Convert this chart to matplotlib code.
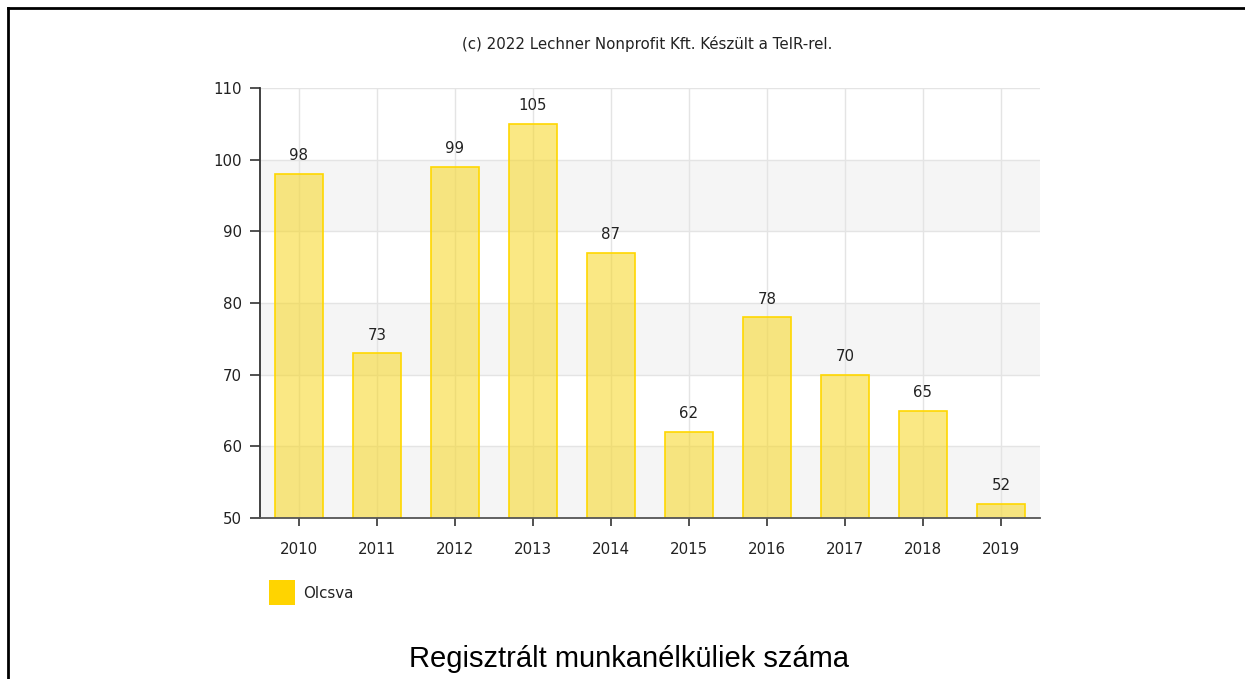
import matplotlib
matplotlib.use("Agg")
import matplotlib.pyplot as plt
from matplotlib.patches import Rectangle
from matplotlib.lines import Line2D

years = ["2010", "2011", "2012", "2013", "2014", "2015", "2016", "2017", "2018", "2019"]
values = [98, 73, 99, 105, 87, 62, 78, 70, 65, 52]
yticks = [50, 60, 70, 80, 90, 100, 110]
series_name = "Olcsva"
credit = "(c) 2022 Lechner Nonprofit Kft. Készült a TeIR-rel."
title = "Regisztrált munkanélküliek száma"

FS = 10.8
fig = plt.figure(figsize=(12.45, 6.79), dpi=100)
ax = fig.add_axes([260/1245, 161/679, 780/1245, 430/679])

x = list(range(len(years)))
ax.set_xlim(-0.5, len(years) - 0.5)
ax.set_ylim(50, 110)

# alternating bands
for lo in (50, 70, 90):
    ax.axhspan(lo, lo + 10, color="#f5f5f5", zorder=0, lw=0)
for t in yticks:
    ax.axhline(t, color="#e4e4e4", lw=1, zorder=1)
for xi in x:
    ax.axvline(xi, color="#e4e4e4", lw=1, zorder=1)

ax.bar(x, values, width=0.62, color=(0.97, 0.84, 0.12, 0.55),
       edgecolor="#FFD700", linewidth=1.2, zorder=2)

for xi, v in zip(x, values):
    ax.annotate(str(v), (xi, v), xytext=(0, 13), textcoords="offset points",
                ha="center", va="center", fontsize=FS, color="#222222",
                family="DejaVu Sans")

ax.set_xticks(x)
ax.set_xticklabels(years, fontsize=FS, color="#222222", family="DejaVu Sans")
ax.set_yticks(yticks)
ax.set_yticklabels([str(t) for t in yticks], fontsize=FS, color="#222222",
                   family="DejaVu Sans")
ax.tick_params(axis="x", length=6, width=1.2, color="#333333", pad=11)
ax.tick_params(axis="y", length=7, width=1.2, color="#333333", pad=6)

for s in ("top", "right"):
    ax.spines[s].set_visible(False)
ax.spines["left"].set_color("#333333")
ax.spines["bottom"].set_color("#555555")
ax.spines["left"].set_linewidth(1.3)
ax.spines["bottom"].set_linewidth(1.3)

# credit text
fig.text(647/1245, 1 - 44/679, credit, ha="center", va="center", fontsize=FS,
         color="#222222", family="DejaVu Sans")

# legend
fig.patches.append(Rectangle((269/1245, 1 - 605/679), 26/1245, 25/679,
                             transform=fig.transFigure, facecolor="#FFD400",
                             edgecolor="none"))
fig.text(303/1245, 1 - 593/679, series_name, ha="left", va="center",
         fontsize=FS, color="#222222", family="DejaVu Sans")

# bottom title
fig.text(629/1245, 1 - 659/679, title, ha="center", va="center", fontsize=21,
         color="#000000", family="Liberation Sans")

# frame
fig.lines.append(Line2D([8/1245, 8/1245], [0, 1 - 8/679], transform=fig.transFigure,
                        color="black", lw=2))
fig.lines.append(Line2D([8/1245, 1], [1 - 8/679, 1 - 8/679], transform=fig.transFigure,
                        color="black", lw=2))

fig.savefig("out.png", dpi=100)
